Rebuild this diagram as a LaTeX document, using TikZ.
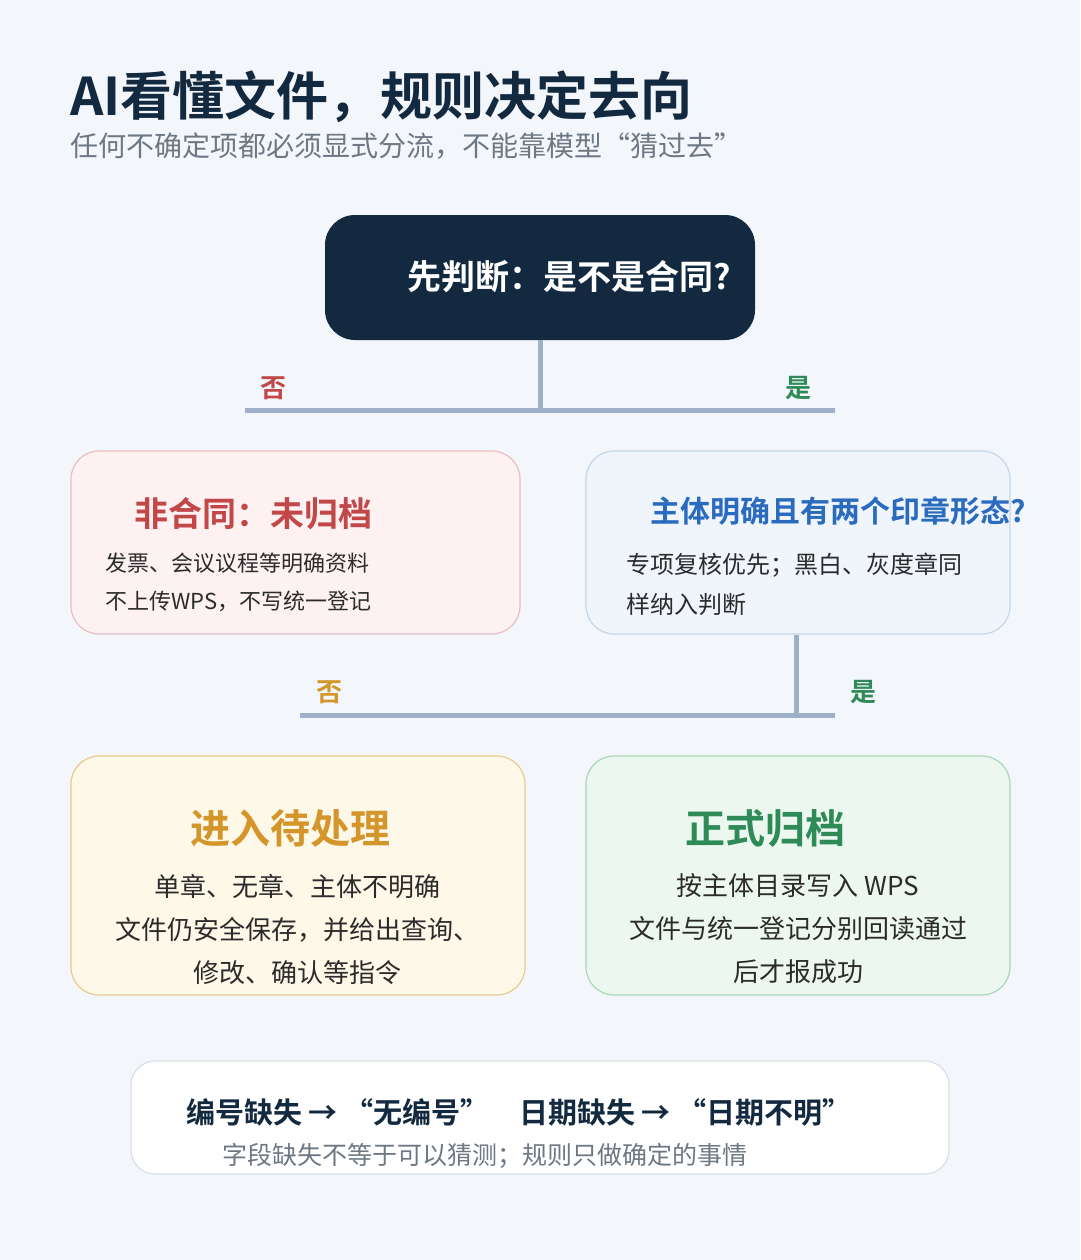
\documentclass[tikz,border=0pt]{standalone}
\usepackage{fontspec}
\setmainfont{Noto Sans CJK SC}[BoldFont=* Bold]
\usetikzlibrary{positioning}
\definecolor{bgcol}{HTML}{F3F7FC}
\definecolor{navy}{HTML}{12293F}
\definecolor{linkcol}{HTML}{9DB0C8}
\definecolor{redtxt}{HTML}{C24848}
\definecolor{orangetxt}{HTML}{D4952B}
\definecolor{greentxt}{HTML}{2E8A57}
\definecolor{bluetxt}{HTML}{2A6BBF}
\definecolor{bodytxt}{HTML}{2B2B2B}
\definecolor{graytxt}{HTML}{6E7884}
\definecolor{pinkfill}{HTML}{FDF1F2}
\definecolor{pinkline}{HTML}{E9BDC2}
\definecolor{bluefill}{HTML}{EFF5FB}
\definecolor{blueline}{HTML}{C3D6E8}
\definecolor{yellowfill}{HTML}{FEF8E9}
\definecolor{yellowline}{HTML}{E8CB8C}
\definecolor{greenfill}{HTML}{ECF7EF}
\definecolor{greenline}{HTML}{AAD6B8}
\definecolor{footline}{HTML}{D9DFE6}
\tikzset{
  card/.style={rectangle, rounded corners=28pt, draw, line width=1.2pt, inner sep=0pt},
  head/.style={font=\bfseries\fontsize{34}{40}\selectfont},
  bighead/.style={font=\bfseries\fontsize{40}{46}\selectfont},
  branch/.style={draw=linkcol, line width=5pt},
  tag/.style={font=\bfseries\fontsize{26}{30}\selectfont}
}
\begin{document}
\begin{tikzpicture}[x=1pt,y=-1pt]
\fill[bgcol] (0,0) rectangle (1080,1260);
\useasboundingbox (0,0) rectangle (1080,1260);
% title
\node[anchor=west, inner sep=0pt, text=navy, font=\bfseries\fontsize{52}{60}\selectfont] (title) at (70,97) {AI看懂文件，规则决定去向};
\node[anchor=west, inner sep=0pt, text=graytxt, font=\fontsize{28}{32}\selectfont] (subtitle) at (70,146) {任何不确定项都必须显式分流，不能靠模型“猜过去”};
% question
\node[rectangle, rounded corners=30pt, fill=navy, minimum width=430pt, minimum height=125pt] (Q) at (540,277.5) {};
\node[head, text=white] (Qtext) at (569,277) {先判断：是不是合同?};
% boxes
\node[card, fill=pinkfill, draw=pinkline, minimum width=449pt, minimum height=183pt] (N) at (295.5,542.5) {};
\node[card, fill=bluefill, draw=blueline, minimum width=424pt, minimum height=183pt] (Y) at (798,542.5) {};
\node[card, fill=yellowfill, draw=yellowline, minimum width=454pt, minimum height=239pt] (P) at (298,875.5) {};
\node[card, fill=greenfill, draw=greenline, minimum width=424pt, minimum height=239pt] (A) at (798,875.5) {};
\node[card, rounded corners=24pt, fill=white, draw=footline, minimum width=818pt, minimum height=113pt] (F) at (540,1117.5) {};
% first split
\coordinate (J1) at ([yshift=-70pt]Q.south);
\coordinate (L1) at (245,410);
\coordinate (R1) at (835,410);
\draw[branch] (Q.south) -- (J1);
\draw[branch] (L1) -- (R1);
\node[tag, text=redtxt] (no1) at ([xshift=28pt,yshift=22pt]L1) {否};
\node[tag, text=greentxt] (yes1) at ([xshift=-37pt,yshift=22pt]R1) {是};
% second split
\coordinate (S2) at ([xshift=-2pt]Y.south);
\coordinate (J2) at ([yshift=-81pt]S2);
\coordinate (L2) at (300,715);
\coordinate (R2) at (835,715);
\draw[branch] (S2) -- (J2);
\draw[branch] (L2) -- (R2);
\node[tag, text=orangetxt] (no2) at ([xshift=29pt,yshift=23pt]L2) {否};
\node[tag, text=greentxt] (yes2) at ([xshift=28pt,yshift=23pt]R2) {是};
% box texts
\node[head, text=redtxt] (Ntitle) at (253,514) {非合同：未归档};
\node[anchor=west, align=left, inner sep=0pt, text=bodytxt, font=\fontsize{22}{38}\selectfont] (Nbody) at (105,582) {发票、会议议程等明确资料\\不上传WPS，不写统一登记};
\node[text=bluetxt, font=\bfseries\fontsize{30}{36}\selectfont] (Ytitle) at (838,511) {主体明确且有两个印章形态?};
\node[anchor=west, align=left, inner sep=0pt, text=bodytxt, font=\fontsize{24}{40}\selectfont] (Ybody) at (626,584) {专项复核优先；黑白、灰度章同\\样纳入判断};
\node[bighead, text=orangetxt] (Ptitle) at (290,828) {进入待处理};
\node[align=center, inner sep=0pt, text=bodytxt, font=\fontsize{26}{43}\selectfont] (Pbody) at (297,929) {单章、无章、主体不明确\\文件仍安全保存，并给出查询、\\修改、确认等指令};
\node[bighead, text=greentxt] (Atitle) at (765,828) {正式归档};
\node[align=center, inner sep=0pt, text=bodytxt, font=\fontsize{26}{43}\selectfont] (Abody) at (798,929) {按主体目录写入 WPS\\文件与统一登记分别回读通过\\后才报成功};
% footer
\node[anchor=west, inner sep=0pt, text=navy, font=\bfseries\fontsize{29}{34}\selectfont] (Fmain) at (186,1112) {编号缺失 → “无编号”\hspace{30pt}日期缺失 → “日期不明”};
\node[anchor=west, inner sep=0pt, text=graytxt, font=\fontsize{25}{30}\selectfont] (Fnote) at (222,1156) {字段缺失不等于可以猜测；规则只做确定的事情};
\end{tikzpicture}
\end{document}
